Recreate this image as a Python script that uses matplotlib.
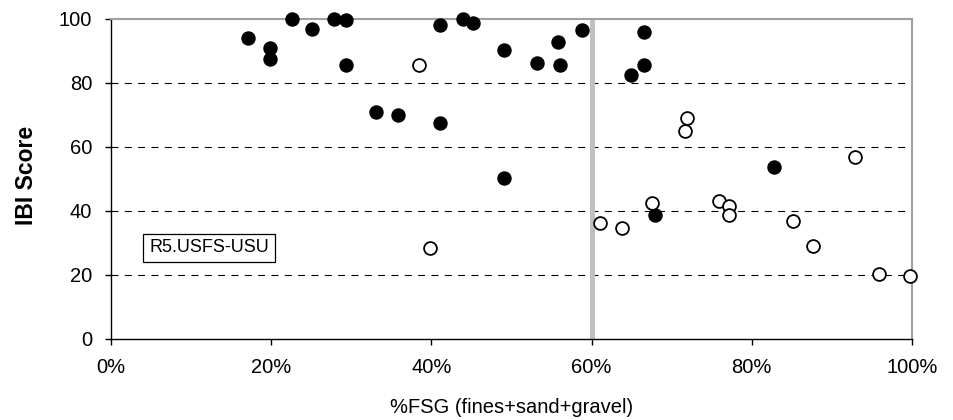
import matplotlib
matplotlib.use("Agg")
import matplotlib.pyplot as plt

plt.rcParams['font.family'] = ['Liberation Sans', 'DejaVu Sans']
plt.rcParams['lines.scale_dashes'] = False

# sites with %FSG (fraction) and IBI score, split by marker style
filled_fsg = [0.171, 0.199, 0.199, 0.226, 0.251, 0.279, 0.293, 0.293, 0.331, 0.358,
              0.411, 0.411, 0.439, 0.452, 0.491, 0.491, 0.532, 0.558, 0.560, 0.588,
              0.649, 0.665, 0.665, 0.679, 0.828]
filled_ibi = [94.0, 90.8, 87.6, 100.0, 96.9, 100.0, 99.7, 85.6, 71.0, 70.0,
              67.4, 98.1, 100.0, 98.6, 90.3, 50.3, 86.2, 92.9, 85.5, 96.6,
              82.5, 96.0, 85.6, 38.6, 53.9]

open_fsg = [0.385, 0.398, 0.611, 0.638, 0.675, 0.719, 0.717, 0.759, 0.772, 0.772,
            0.851, 0.877, 0.929, 0.959, 0.998]
open_ibi = [85.6, 28.4, 36.3, 34.8, 42.6, 69.0, 65.0, 43.0, 41.5, 38.9,
            36.8, 29.1, 57.0, 20.2, 19.7]

threshold = 0.60
label_text = "R5.USFS-USU"
y_ticks = [0, 20, 40, 60, 80, 100]
x_ticks = [0, 0.2, 0.4, 0.6, 0.8, 1.0]

fig = plt.figure(figsize=(9.54, 4.2), dpi=100)
ax = fig.add_axes([111 / 954, 1 - 339 / 420, 801 / 954, 320 / 420])

ax.set_xlim(0, 1)
ax.set_ylim(0, 100)

# dashed horizontal gridlines
for yv in y_ticks[1:-1]:
    ax.axhline(yv, color='black', lw=0.8, linestyle=(0, (5.0, 4.6)), zorder=1)

# 60% threshold line
ax.axvline(threshold, color='#c0c0c0', lw=3.6, zorder=2)

ax.scatter(filled_fsg, filled_ibi, s=88, c='black', edgecolors='black',
           linewidths=1.0, zorder=4, clip_on=False)
ax.scatter(open_fsg, open_ibi, s=85, c='white', edgecolors='black',
           linewidths=1.3, zorder=4, clip_on=False)

ax.text(0.1225, 28.5, label_text, fontsize=13, ha='center', va='center',
        bbox={'boxstyle': 'square,pad=0.32', 'facecolor': 'white',
              'edgecolor': 'black', 'linewidth': 0.9}, zorder=5)

# spines: black left/bottom, grey top/right
for side in ['left', 'bottom']:
    ax.spines[side].set_color('black')
    ax.spines[side].set_linewidth(1.0)
for side in ['top', 'right']:
    ax.spines[side].set_color('#a0a0a0')
    ax.spines[side].set_linewidth(1.5)

ax.set_yticks(y_ticks)
ax.set_xticks(x_ticks)
ax.set_xticklabels([f"{int(round(v * 100))}%" for v in x_ticks])
ax.tick_params(axis='both', direction='out', length=4.5, width=1.0,
               labelsize=14.5, colors='black')
ax.tick_params(axis='y', pad=9)
ax.tick_params(axis='x', pad=9)

ax.set_xlabel("%FSG (fines+sand+gravel)", fontsize=14.5, va='center')
ax.xaxis.set_label_coords(0.5, -0.2156)
ax.set_ylabel("IBI Score", fontsize=16.5, fontweight='bold', va='center', ha='center')
ax.yaxis.set_label_coords(-0.106, 0.512)

fig.savefig("out.png", dpi=100)
